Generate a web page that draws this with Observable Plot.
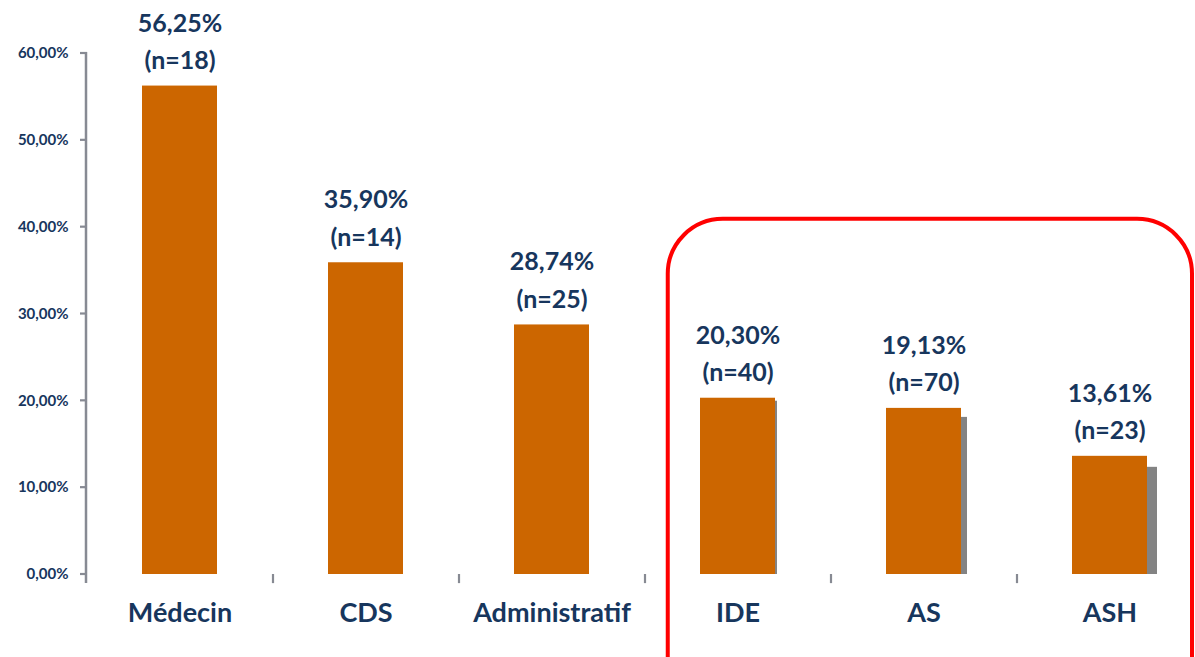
<!DOCTYPE html>
<html>
<head>
<meta charset="utf-8">
<script src="https://cdn.jsdelivr.net/npm/d3@7"></script>
<script src="https://cdn.jsdelivr.net/npm/@observablehq/plot@0.6"></script>
<style>
  html, body { margin: 0; padding: 0; background: #fff; overflow: hidden; }
  #chart svg { display: block; }
</style>
</head>
<body>
<div id="chart"></div>
<script>
const categories = ["Médecin", "CDS", "Administratif", "IDE", "AS", "ASH"];
const percents = [56.25, 35.90, 28.74, 20.30, 19.13, 13.61];
const counts = [18, 14, 25, 40, 70, 23];
const yTicks = [0, 10, 20, 30, 40, 50, 60];

const W = 1195, H = 657;
const mL = 87, mR = -8, mT = 53, mB = 83;
const step = (W - mL - mR) / categories.length;

const navy = "#17365d";
const orange = "#cc6600";
const grid = "#878a93";
const shadow = "#838383";
const font = "Lato, 'Open Sans', sans-serif";

const data = categories.map((c, i) => ({
  cat: c, pct: percents[i], n: counts[i],
  label: percents[i].toFixed(2).replace(".", ",") + "%\n(n=" + counts[i] + ")"
}));
const fmt = v => v.toFixed(2).replace(".", ",") + "%";
const only = name => data.filter(d => d.cat === name);

const redBox = (index, scales, values, dim) => {
  const x0 = scales.x("IDE") - 0.43 * scales.x.bandwidth();
  const y0 = scales.y(40.9);
  const g = d3.create("svg:rect")
    .attr("x", x0).attr("y", y0)
    .attr("width", dim.width - 3 - x0)
    .attr("height", dim.height - y0 + 60)
    .attr("rx", 55).attr("ry", 55)
    .attr("fill", "none").attr("stroke", "#ff0000").attr("stroke-width", 4);
  return g.node();
};

const plot = Plot.plot({
  width: W, height: H,
  marginLeft: mL, marginRight: mR, marginTop: mT, marginBottom: mB,
  style: { fontFamily: font, background: "#fff", overflow: "hidden" },
  x: { domain: categories, paddingInner: 0.595, paddingOuter: 0.2975, label: null, axis: null },
  y: { domain: [0, 60], label: null, axis: null },
  marks: [
    Plot.ruleY(yTicks, { x1: categories[0], x2: categories[5], stroke: grid, strokeWidth: 2.2, insetLeft: -step, insetRight: -step }),
    Plot.ruleX(categories.slice(1), { x: d => d, dx: -step / 2, y1: 0, y2: -1.05, stroke: grid, strokeWidth: 2.2 }),
    Plot.barY(only("IDE"), { x: "cat", y: "pct", fill: shadow, dx: 2, dy: 3, insetBottom: 3 }),
    Plot.barY(only("AS"), { x: "cat", y: "pct", fill: shadow, dx: 6, dy: 9, insetBottom: 9 }),
    Plot.barY(only("ASH"), { x: "cat", y: "pct", fill: shadow, dx: 10, dy: 11, insetBottom: 11 }),
    Plot.barY(data, { x: "cat", y: "pct", fill: orange }),
    Plot.text(data, { x: "cat", y: "pct", text: "label", lineAnchor: "bottom", dy: -17, lineHeight: 1.5,
      fill: navy, fontSize: 25, fontWeight: "bold" }),
    Plot.text(yTicks, { y: d => d, frameAnchor: "left", dx: -19, textAnchor: "end", text: fmt,
      fill: navy, fontSize: 15, fontWeight: "bold" }),
    Plot.text(categories, { x: d => d, y: 0, dy: 39, text: d => d, fill: navy, fontSize: 27, fontWeight: "bold" }),
    redBox
  ]
});

// left axis line & tick marks placed with the plot's y scale
const ys = plot.scale("y");
const svg = d3.select(plot);
const yScale = v => (v - ys.domain[0]) / (ys.domain[1] - ys.domain[0]) * (ys.range[1] - ys.range[0]) + ys.range[0];
svg.append("line").attr("x1", mL - 1).attr("x2", mL - 1)
  .attr("y1", yScale(60) - 1).attr("y2", yScale(-1.05))
  .attr("stroke", grid).attr("stroke-width", 2.5);
for (const t of yTicks) {
  svg.append("line").attr("x1", mL - 7).attr("x2", mL).attr("y1", yScale(t)).attr("y2", yScale(t))
    .attr("stroke", grid).attr("stroke-width", 2.2);
}
document.getElementById("chart").appendChild(plot);
</script>
</body>
</html>
